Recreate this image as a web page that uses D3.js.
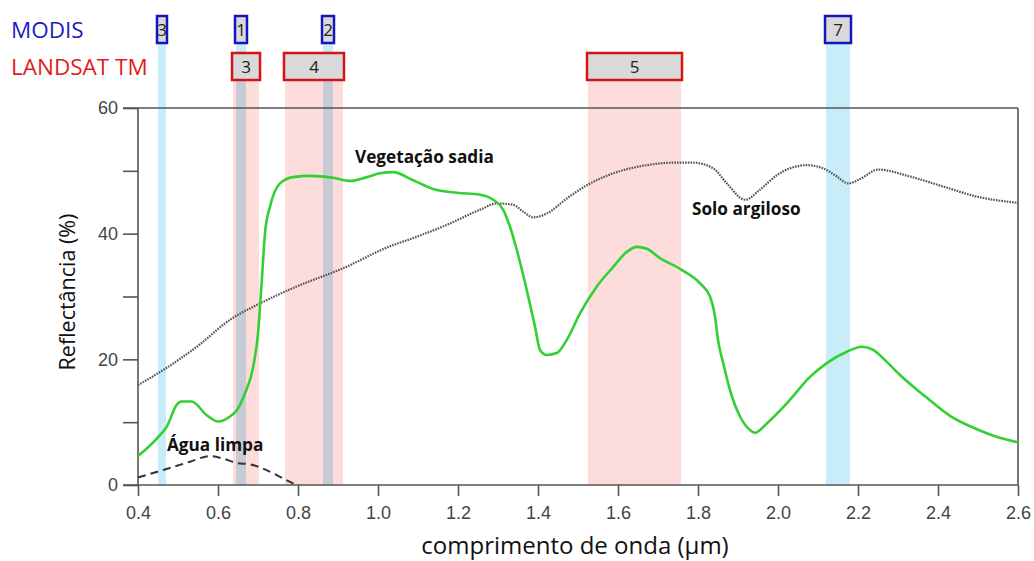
<!DOCTYPE html>
<html>
<head>
<meta charset="utf-8">
<script src="https://cdn.jsdelivr.net/npm/d3@7"></script>
<style>
  html, body { margin: 0; padding: 0; background: #ffffff; }
  svg { display: block; }
</style>
</head>
<body>
<svg id="chart" width="1034" height="561"></svg>
<script>
// ---------------- DATA ----------------
const modisBands = ["3", "1", "2", "7"];
const modisStart = [0.450, 0.645, 0.8625, 2.120];
const modisEnd   = [0.470, 0.670, 0.8875, 2.180];

const landsatBands = ["3", "4", "5"];
const landsatStart = [0.6375, 0.7675, 1.525];
const landsatEnd   = [0.7025, 0.9125, 1.7575];

// Vegetação sadia (green)
const vegWave = [0.40, 0.447, 0.472, 0.497, 0.508, 0.534, 0.572, 0.60, 0.63, 0.647, 0.6675, 0.688, 0.70, 0.709, 0.7175, 0.73, 0.755, 0.7875, 0.83, 0.8875, 0.93, 0.9725, 1.005, 1.038, 1.088, 1.138, 1.197, 1.255, 1.288, 1.313, 1.33, 1.347, 1.372, 1.3925, 1.405, 1.422, 1.447, 1.472, 1.505, 1.547, 1.588, 1.622, 1.647, 1.672, 1.705, 1.755, 1.805, 1.83, 1.8425, 1.85, 1.863, 1.88, 1.905, 1.93, 1.9425, 1.972, 2.022, 2.08, 2.122, 2.172, 2.209, 2.238, 2.272, 2.305, 2.37, 2.43, 2.50, 2.55, 2.60];
const vegRefl = [4.6, 7.4, 9.3, 12.8, 13.3, 13.3, 11.1, 10.1, 10.9, 11.9, 14.6, 18.8, 24.1, 32.1, 40.1, 44.3, 48.0, 49.0, 49.2, 48.9, 48.4, 49.0, 49.6, 49.8, 48.5, 47.1, 46.5, 46.2, 45.4, 43.8, 41.1, 37.4, 31.0, 25.2, 21.5, 20.7, 21.0, 23.1, 27.3, 31.6, 34.7, 37.1, 37.9, 37.6, 36.1, 34.4, 32.1, 30.0, 26.8, 23.1, 19.4, 15.1, 10.9, 8.75, 8.3, 9.8, 13.0, 17.2, 19.4, 21.2, 22.0, 21.5, 19.6, 17.5, 14.0, 11.0, 8.8, 7.6, 6.8];

// Solo argiloso (gray dotted)
const soloWave = [0.40, 0.463, 0.547, 0.63, 0.705, 0.797, 0.913, 1.03, 1.088, 1.172, 1.255, 1.297, 1.338, 1.363, 1.388, 1.422, 1.472, 1.522, 1.588, 1.672, 1.738, 1.788, 1.838, 1.872, 1.918, 1.955, 1.997, 2.072, 2.113, 2.147, 2.176, 2.205, 2.251, 2.33, 2.413, 2.497, 2.60];
const soloRefl = [15.9, 18.3, 22.0, 26.3, 28.9, 31.6, 34.5, 38.0, 39.3, 41.4, 43.8, 44.8, 44.6, 43.5, 42.6, 43.2, 45.6, 47.7, 49.6, 50.9, 51.3, 51.3, 50.4, 48.0, 45.4, 47.0, 49.3, 50.9, 50.4, 49.1, 48.0, 48.7, 50.2, 49.1, 47.5, 45.9, 44.9];

// Água limpa (black dashed)
const aguaWave = [0.40, 0.463, 0.53, 0.58, 0.613, 0.647, 0.68, 0.713, 0.755, 0.795];
const aguaRefl = [1.2, 2.4, 3.7, 4.6, 4.2, 3.5, 3.3, 2.6, 1.3, 0.0];

const xTicks = [0.4, 0.6, 0.8, 1.0, 1.2, 1.4, 1.6, 1.8, 2.0, 2.2, 2.4, 2.6];
const yTicks = [0, 10, 20, 30, 40, 50, 60];
const yTickLabels = ["0", "", "20", "", "40", "", "60"];

// ---------------- CHART ----------------
const svg = d3.select("#chart");
const x = d3.scaleLinear().domain([0.4, 2.6]).range([138, 1018]);
const y = d3.scaleLinear().domain([0, 60]).range([485, 108]);

const uiFont = "'Open Sans', 'Noto Sans', sans-serif";
const axFont = "'Liberation Sans', Arial, sans-serif";

const modisBoxTop = 16, modisBoxBottom = 43;
const landBoxTop = 53, landBoxBottom = 80;

const landsat = landsatBands.map((b, i) => ({ b, s: landsatStart[i], e: landsatEnd[i] }));
const modis = modisBands.map((b, i) => ({ b, s: modisStart[i], e: modisEnd[i] }));

// bands
const bandG = svg.append("g").style("isolation", "isolate");
bandG.selectAll("rect.land").data(landsat).join("rect")
  .attr("class", "land")
  .attr("x", d => x(d.s)).attr("width", d => x(d.e) - x(d.s))
  .attr("y", landBoxBottom).attr("height", y(0) - landBoxBottom)
  .attr("fill", "#fddcdc");
bandG.selectAll("rect.modis").data(modis).join("rect")
  .attr("class", "modis")
  .attr("x", d => x(d.s)).attr("width", d => x(d.e) - x(d.s))
  .attr("y", modisBoxBottom).attr("height", y(0) - modisBoxBottom)
  .attr("fill", "#c8ecf8")
  .style("mix-blend-mode", "multiply");

// frame & axes
const axisColor = "#555";
const frame = svg.append("g").attr("stroke", axisColor).attr("stroke-width", 1.6).attr("fill", "none");
frame.append("line").attr("x1", 123).attr("x2", x(2.6)).attr("y1", y(60)).attr("y2", y(60));
frame.append("line").attr("x1", x(2.6)).attr("x2", x(2.6)).attr("y1", y(60)).attr("y2", y(0));
frame.append("line").attr("x1", x(0.4)).attr("x2", x(0.4)).attr("y1", y(60)).attr("y2", y(0));

// x axis
const xAxis = d3.axisBottom(x).tickValues(xTicks).tickFormat(d3.format(".1f")).tickSize(11).tickPadding(10);
const xg = svg.append("g").attr("transform", `translate(0,${y(0)})`).call(xAxis);
xg.select(".domain").attr("stroke", axisColor).attr("stroke-width", 1.6).attr("d", `M123,0H${x(2.6)}`);
xg.selectAll(".tick line").attr("stroke", axisColor).attr("stroke-width", 1.6);
xg.selectAll(".tick text").attr("font-family", axFont).attr("font-size", 18).attr("fill", "#444");

// y axis
const yAxis = d3.axisLeft(y).tickValues(yTicks).tickFormat((d, i) => yTickLabels[i]).tickSize(15).tickPadding(5);
const yg = svg.append("g").attr("transform", `translate(${x(0.4)},0)`).call(yAxis);
yg.select(".domain").remove();
yg.selectAll(".tick line").attr("stroke", axisColor).attr("stroke-width", 1.6);
yg.selectAll(".tick text").attr("font-family", axFont).attr("font-size", 18).attr("fill", "#444");

// lines
const line = d3.line().x(d => x(d[0])).y(d => y(d[1])).curve(d3.curveMonotoneX);
const veg = vegWave.map((w, i) => [w, vegRefl[i]]);
const solo = soloWave.map((w, i) => [w, soloRefl[i]]);
const agua = aguaWave.map((w, i) => [w, aguaRefl[i]]);

svg.append("path").datum(solo).attr("d", line)
  .attr("fill", "none").attr("stroke", "#555").attr("stroke-width", 2.2)
  .attr("stroke-dasharray", "1.6 1.1");
svg.append("path").datum(agua).attr("d", line)
  .attr("fill", "none").attr("stroke", "#333").attr("stroke-width", 2)
  .attr("stroke-dasharray", "8 5");
svg.append("path").datum(veg).attr("d", line)
  .attr("fill", "none").attr("stroke", "#33d033").attr("stroke-width", 2.6)
  .attr("stroke-linejoin", "round");

// series labels
const labelG = svg.append("g").attr("font-family", uiFont).attr("font-weight", "bold").attr("font-size", 17.2).attr("fill", "#111");
labelG.append("text").attr("x", 355).attr("y", 163).text("Vegetação sadia");
labelG.append("text").attr("x", 692).attr("y", 215).text("Solo argiloso");
labelG.append("text").attr("x", 167).attr("y", 451).text("Água limpa");

// band boxes
const boxG = svg.append("g");
boxG.selectAll("rect.mbox").data(modis).join("rect")
  .attr("class", "mbox")
  .attr("x", d => x(d.s) - 1).attr("width", d => x(d.e) - x(d.s) + 2)
  .attr("y", modisBoxTop).attr("height", modisBoxBottom - modisBoxTop)
  .attr("fill", "#d9d9d9").attr("stroke", "#1414c0").attr("stroke-width", 2.5);
boxG.selectAll("text.mlab").data(modis).join("text")
  .attr("class", "mlab")
  .attr("x", d => (x(d.s) + x(d.e)) / 2).attr("y", 36)
  .attr("text-anchor", "middle").attr("font-family", uiFont).attr("font-size", 17).attr("fill", "#222")
  .text(d => d.b);
boxG.selectAll("rect.lbox").data(landsat).join("rect")
  .attr("class", "lbox")
  .attr("x", d => x(d.s) - 1).attr("width", d => x(d.e) - x(d.s) + 2)
  .attr("y", landBoxTop).attr("height", landBoxBottom - landBoxTop)
  .attr("fill", "#d9d9d9").attr("stroke", "#d41414").attr("stroke-width", 2.5);
boxG.selectAll("text.llab").data(landsat).join("text")
  .attr("class", "llab")
  .attr("x", d => (x(d.s) + x(d.e)) / 2).attr("y", 73)
  .attr("text-anchor", "middle").attr("font-family", uiFont).attr("font-size", 17).attr("fill", "#222")
  .text(d => d.b);

// sensor labels
svg.append("text").attr("x", 11).attr("y", 38).attr("font-family", uiFont).attr("font-size", 22.5)
  .attr("fill", "#1c1cc4").text("MODIS");
svg.append("text").attr("x", 11).attr("y", 75).attr("font-family", uiFont).attr("font-size", 22.5)
  .attr("fill", "#e01c1c").text("LANDSAT TM");

// axis titles
svg.append("text").attr("transform", "translate(75,292) rotate(-90)")
  .attr("text-anchor", "middle").attr("font-family", uiFont).attr("font-size", 21.5).attr("fill", "#111")
  .text("Reflectância (%)");
svg.append("text").attr("x", 575).attr("y", 554)
  .attr("text-anchor", "middle").attr("font-family", uiFont).attr("font-size", 24).attr("fill", "#111")
  .text("comprimento de onda (μm)");
</script>
</body>
</html>
